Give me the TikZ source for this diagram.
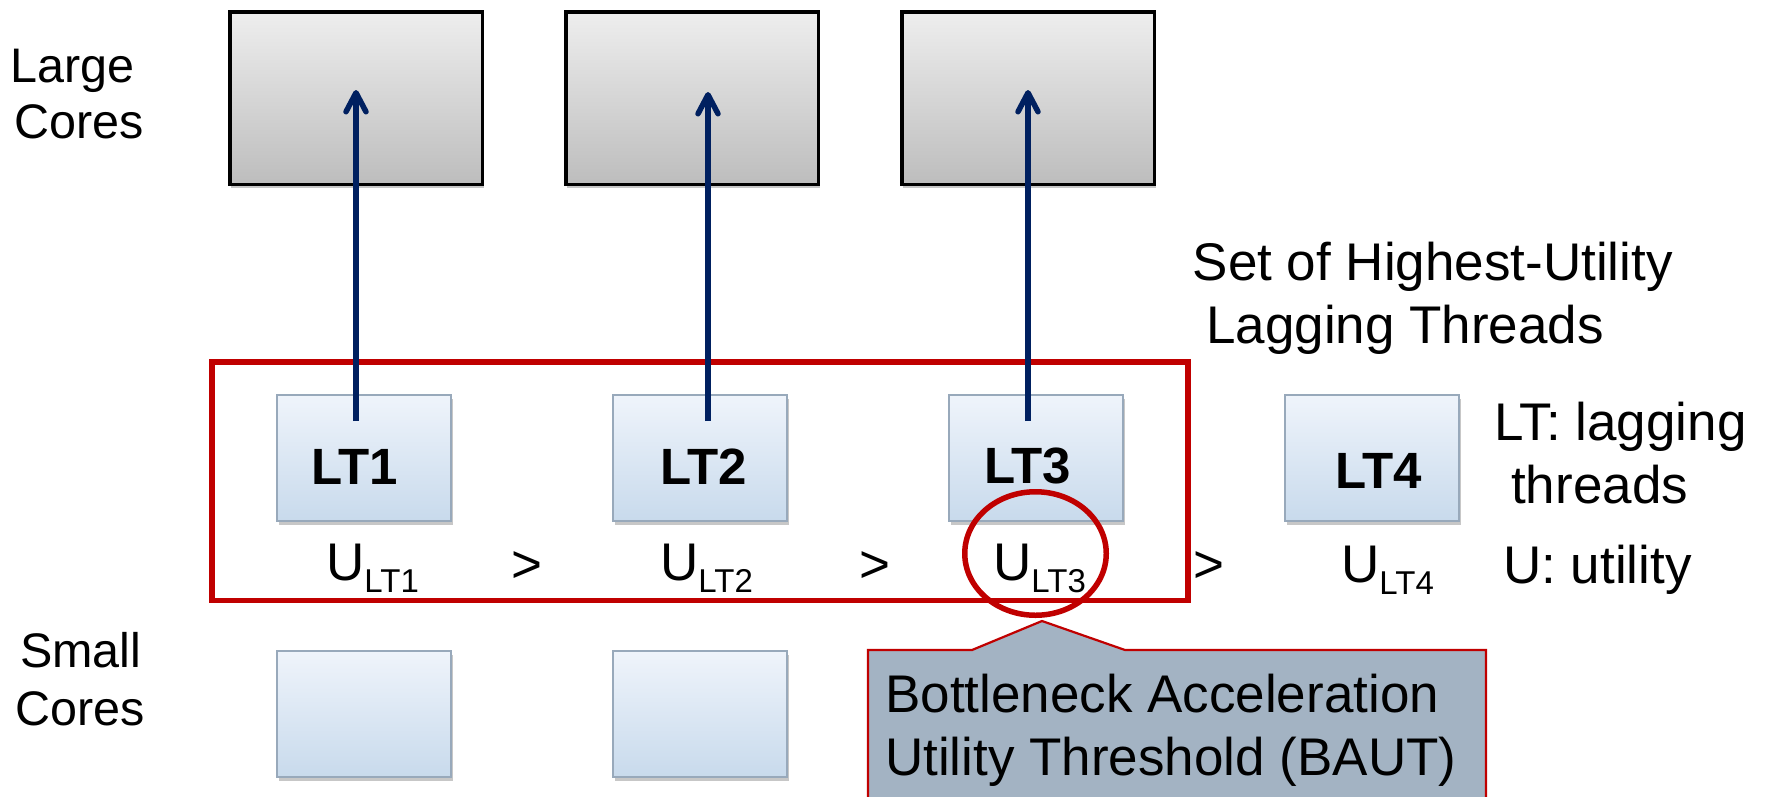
\documentclass[tikz,border=0pt]{standalone}
\usepackage{fontspec}
\setmainfont{Liberation Sans}
\usetikzlibrary{arrows.meta,shadows,shapes.geometric}

\definecolor{navy}{HTML}{002060}
\definecolor{pptred}{HTML}{C00000}
\definecolor{ltborder}{HTML}{98A9BB}
\definecolor{lttop}{HTML}{EFF4FB}
\definecolor{ltbot}{HTML}{C8DAEC}
\definecolor{bigtop}{HTML}{EEEEEE}
\definecolor{bigbot}{HTML}{BDBDBD}
\definecolor{callfill}{HTML}{A3B3C3}

\tikzset{
  softshadow/.style={drop shadow={shadow xshift=1.5pt, shadow yshift=-4pt, opacity=0.22, fill=black}},
  bigcore/.style={draw=black, line width=3.5pt, top color=bigtop, bottom color=bigbot,
    minimum width=252.5pt, minimum height=172.5pt, inner sep=0pt, softshadow},
  smallcore/.style={draw=ltborder, line width=2.2pt, top color=lttop, bottom color=ltbot,
    minimum width=174pt, minimum height=126pt, inner sep=0pt, softshadow},
  setbox/.style={draw=pptred, line width=5.5pt, minimum width=976pt, minimum height=238.5pt, inner sep=0pt},
  ring/.style={ellipse, draw=pptred, line width=5.5pt, minimum width=141.5pt, minimum height=123.5pt, inner sep=0pt},
  callout/.style={fill=callfill, draw=pptred, line width=2.2pt, line join=miter},
  up/.style={draw=navy, line width=5.5pt, -{Straight Barb[length=19pt, width=20pt, round]}},
  txt/.style={inner sep=0pt, anchor=base west, font=\fontsize{53}{60}\selectfont},
  side/.style={txt, font=\fontsize{48.5}{56}\selectfont},
  ltlbl/.style={txt, font=\fontsize{51}{60}\selectfont\bfseries},
}
\newcommand{\subLT}[1]{\raisebox{-12pt}{\fontsize{33}{40}\selectfont LT#1}}

\begin{document}
\begin{tikzpicture}[x=1pt,y=-1pt]
\useasboundingbox (0,0) rectangle (1766,796);

% row labels
\node[side] (large1) at (10,82) {Large};
\node[side] (large2) at (14.5,138) {Cores};
\node[side] (small1) at (20,667) {Small};
\node[side] (small2) at (15.5,725) {Cores};

% large cores
\node[bigcore] (L1) at (356,98) {};
\node[bigcore] (L2) at (692,98) {};
\node[bigcore] (L3) at (1028,98) {};

% set of highest-utility lagging threads
\node[setbox] (set) at (700,481.25) {};

% lagging threads
\node[smallcore] (B1) at (364,458) {};
\node[smallcore] (B2) at (700,458) {};
\node[smallcore] (B3) at (1036,458) {};
\node[smallcore] (B4) at (1372,458) {};
\node[ltlbl] (t1) at (311,484) {LT1};
\node[ltlbl] (t2) at (660,484) {LT2};
\node[ltlbl] (t3) at (984,483) {LT3};
\node[ltlbl] (t4) at (1335,488) {LT4};

% small cores
\node[smallcore] (S1) at (364,714) {};
\node[smallcore] (S2) at (700,714) {};

% utilities
\node[txt] (u1) at (326,580) {U\subLT{1}};
\node[txt] (g1) at (511,582) {>};
\node[txt] (u2) at (660,580) {U\subLT{2}};
\node[txt] (g2) at (859,582) {>};
\node[txt] (u3) at (993,580) {U\subLT{3}};
\node[txt] (g3) at (1193,582) {>};
\node[txt] (u4) at (1341,582) {U\subLT{4}};

% migrations to the large cores
\coordinate (a1s) at (356,421); \coordinate (a1e) at (356,90);
\coordinate (a2s) at (708,421); \coordinate (a2e) at (708,92);
\coordinate (a3s) at (1028,421); \coordinate (a3e) at (1028,90);
\draw[up] (a1s) -- (a1e);
\draw[up] (a2s) -- (a2e);
\draw[up] (a3s) -- (a3e);

% threshold callout
\path[callout] (868,810) -- (868,650) -- (972,650) -- (1042,621) -- (1125,650)
  -- (1486,650) -- (1486,810);
\node[txt] (c1) at (885,712) {Bottleneck Acceleration};
\node[txt] (c2) at (885,775) {Utility Threshold (BAUT)};
\node[ring] (thr) at (1035.5,553.5) {};

% legend texts
\node[txt] (h1) at (1192.5,280) {Set of Highest-Utility};
\node[txt] (h2) at (1206,343) {Lagging Threads};
\node[txt] (k1) at (1494,440) {LT: lagging};
\node[txt] (k2) at (1511,503) {threads};
\node[txt] (k3) at (1503,583) {U: utility};
\end{tikzpicture}
\end{document}
